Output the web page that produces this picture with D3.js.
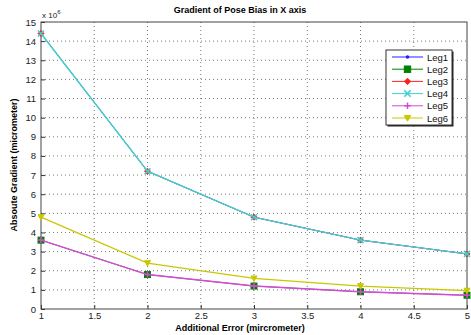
<!DOCTYPE html>
<html>
<head>
<meta charset="utf-8">
<script src="https://cdn.jsdelivr.net/npm/d3@7"></script>
<style>
  body { margin: 0; background: #fff; }
  text { font-family: "Liberation Sans", Arial, sans-serif; }
</style>
</head>
<body>
<div id="chart"></div>
<script>
//////////////////// data ///////////////////
const xValues = [1, 2, 3, 4, 5];
const leg1 = [14.4, 7.2, 4.8, 3.6, 2.88];
const leg2 = [3.6, 1.8, 1.2, 0.9, 0.72];
const leg3 = [14.4, 7.2, 4.8, 3.6, 2.88];
const leg4 = [14.4, 7.2, 4.8, 3.6, 2.88];
const leg5 = [3.6, 1.8, 1.2, 0.9, 0.72];
const leg6 = [4.8, 2.4, 1.6, 1.2, 0.96];
const seriesNames = ["Leg1", "Leg2", "Leg3", "Leg4", "Leg5", "Leg6"];
const xTicks = [1, 1.5, 2, 2.5, 3, 3.5, 4, 4.5, 5];
const yTicks = d3.range(0, 16);

const series = [
    { name: seriesNames[0], values: leg1, color: "#2020ff", marker: "dot", w: 0.8 },
    { name: seriesNames[1], values: leg2, color: "#008000", marker: "square", w: 0.8 },
    { name: seriesNames[2], values: leg3, color: "#ff2020", marker: "diamond", w: 0.8 },
    { name: seriesNames[3], values: leg4, color: "#40d0d0", marker: "x", w: 1.4 },
    { name: seriesNames[4], values: leg5, color: "#d848d8", marker: "plus", w: 1.4 },
    { name: seriesNames[5], values: leg6, color: "#c8c800", marker: "tri", w: 1.2 },
];

const W = 471, H = 335;
const margin = { left: 41, right: 4, top: 22, bottom: 26 };
const width = W - margin.left - margin.right;
const height = H - margin.top - margin.bottom;

const svg = d3.select("#chart").append("svg")
    .attr("width", W).attr("height", H);
const g = svg.append("g")
    .attr("transform", `translate(${margin.left},${margin.top})`);

const x = d3.scaleLinear().domain([1, 5]).range([0, width]);
const y = d3.scaleLinear().domain([0, 15]).range([height, 0]);

//grid lines (dotted)
g.append("g").selectAll("line").data(xTicks.slice(1, -1)).join("line")
    .attr("x1", d => x(d)).attr("x2", d => x(d))
    .attr("y1", 0).attr("y2", height)
    .attr("stroke", "#555").attr("stroke-width", 0.8)
    .attr("stroke-dasharray", "1,3");
g.append("g").selectAll("line").data(yTicks.slice(1, -1)).join("line")
    .attr("x1", 0).attr("x2", width)
    .attr("y1", d => y(d)).attr("y2", d => y(d))
    .attr("stroke", "#555").attr("stroke-width", 0.8)
    .attr("stroke-dasharray", "1,3");

//axes
const fmt = d3.format("~g");
const xAxis = d3.axisBottom(x).tickValues(xTicks).tickFormat(fmt).tickSizeInner(-4).tickSizeOuter(0).tickPadding(3);
const yAxis = d3.axisLeft(y).tickValues(yTicks).tickFormat(fmt).tickSizeInner(-4).tickSizeOuter(0).tickPadding(5);
const xg = g.append("g").attr("transform", `translate(0,${height})`).call(xAxis);
const yg = g.append("g").call(yAxis);
[xg, yg].forEach(a => {
    a.select(".domain").remove();
    a.selectAll("line").attr("stroke", "#333");
    a.selectAll("text").attr("font-size", 9.5).attr("fill", "#222")
        .style("font-family", "'Liberation Sans', Arial, sans-serif");
});
xg.selectAll("text").attr("dy", "0.75em");

//frame
g.append("rect").attr("width", width).attr("height", height)
    .attr("fill", "none").attr("stroke", "#444").attr("stroke-width", 1);

//lines
const line = d3.line().x((d, i) => x(xValues[i])).y(d => y(d));

function drawMarker(sel, type, color, s) {
    if (type === "dot") {
        sel.append("circle").attr("r", s * 0.45).attr("fill", color);
    } else if (type === "square") {
        sel.append("rect").attr("x", -s).attr("y", -s).attr("width", 2 * s).attr("height", 2 * s)
            .attr("fill", color).attr("stroke", color);
    } else if (type === "diamond") {
        sel.append("path").attr("d", `M0,${-s}L${s},0L0,${s}L${-s},0Z`).attr("fill", color).attr("stroke", color);
    } else if (type === "x") {
        sel.append("path").attr("d", `M${-s},${-s}L${s},${s}M${-s},${s}L${s},${-s}`)
            .attr("stroke", color).attr("stroke-width", 1.5);
    } else if (type === "plus") {
        sel.append("path").attr("d", `M${-s},0L${s},0M0,${-s}L0,${s}`)
            .attr("stroke", color).attr("stroke-width", 1.5);
    } else if (type === "tri") {
        sel.append("path").attr("d", `M${-s},${-s * 0.8}L${s},${-s * 0.8}L0,${s}Z`)
            .attr("fill", color).attr("stroke", color);
    }
}

series.forEach(s => {
    g.append("path").datum(s.values)
        .attr("d", line).attr("fill", "none")
        .attr("stroke", s.color).attr("stroke-width", s.w);
    s.values.forEach((v, i) => {
        const m = g.append("g").attr("transform", `translate(${x(xValues[i])},${y(v)})`);
        drawMarker(m, s.marker, s.color, 3);
    });
});

//legend
const lg = svg.append("g").attr("transform", "translate(386,50)");
lg.append("rect").attr("x", 1.5).attr("y", 1.5).attr("width", 66).attr("height", 75)
    .attr("fill", "#222");
lg.append("rect").attr("width", 66).attr("height", 75)
    .attr("fill", "#fff").attr("stroke", "#333").attr("stroke-width", 1);
series.forEach((s, i) => {
    const yy = 7 + i * 12.2;
    const row = lg.append("g").attr("transform", `translate(0,${yy})`);
    row.append("line").attr("x1", 6).attr("x2", 37).attr("stroke", s.color).attr("stroke-width", 1);
    const m = row.append("g").attr("transform", "translate(21.5,0)");
    drawMarker(m, s.marker, s.color, s.marker === "dot" ? 4 : 3.2);
    row.append("text").attr("x", 41).attr("y", 3.5).attr("font-size", 9.5).attr("fill", "#111").text(s.name);
});

//texts
svg.append("text").attr("x", 240).attr("y", 13).attr("text-anchor", "middle")
    .attr("font-size", 9).attr("font-weight", "bold").text("Gradient of Pose Bias in X axis");
svg.append("text").attr("x", 240).attr("y", 331).attr("text-anchor", "middle")
    .attr("font-size", 9).attr("font-weight", "bold").text("Additional Error (mircrometer)");
svg.append("text").attr("transform", "translate(17,165) rotate(-90)").attr("text-anchor", "middle")
    .attr("font-size", 9).attr("font-weight", "bold").text("Absoute Gradient (micrometer)");
const ex = svg.append("text").attr("x", 42).attr("y", 18).attr("font-size", 8).attr("fill", "#222");
ex.append("tspan").text("x 10");
ex.append("tspan").attr("dy", -4).attr("font-size", 6).text("6");
</script>
</body>
</html>
